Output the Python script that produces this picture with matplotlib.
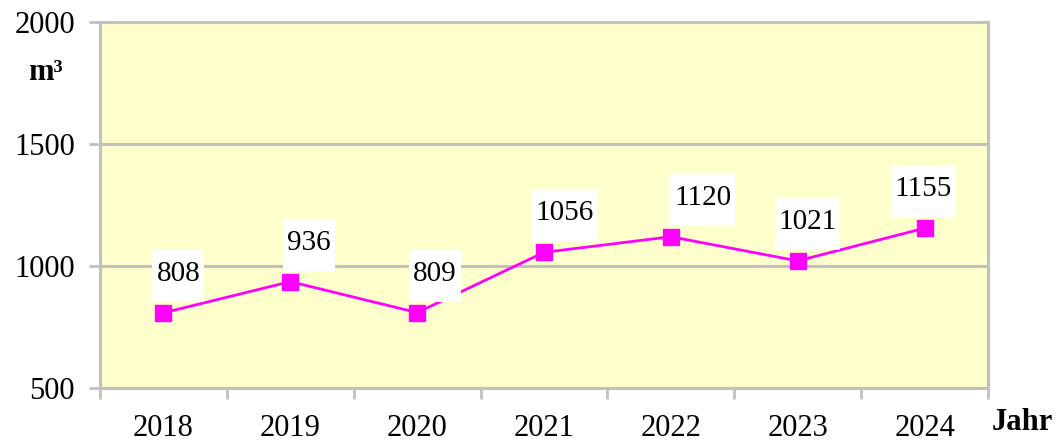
import matplotlib.pyplot as plt
from matplotlib.patches import Rectangle
from matplotlib.transforms import Affine2D, ScaledTranslation

# data
years = ["2018", "2019", "2020", "2021", "2022", "2023", "2024"]
values = [808, 936, 809, 1056, 1120, 1021, 1155]
y_ticks = [500, 1000, 1500, 2000]

# horizontal shift of each label box (pixels), as in the original
label_dx = [15, 19, 18, 21, 32, 10, -1]

plt.rcParams['font.family'] = ['Liberation Serif', 'DejaVu Serif']

fig = plt.figure(figsize=(10.62, 4.43), dpi=100)
W, H = 1062, 443
ax = fig.add_axes([100 / W, 1 - 388 / H, (988 - 100) / W, (388 - 22) / H])
ax.set_facecolor('#FFFFCC')

x = list(range(len(years)))
ax.plot(x, values, color='#FF00FF', lw=2.0, marker='s', markersize=11.5, zorder=3)

grid_col = '#C0C0C0'
ax.set_ylim(500, 2000)
ax.set_yticks(y_ticks)
ax.set_yticklabels([str(t) for t in y_ticks], fontsize=22)
ax.set_xlim(-0.5, len(years) - 0.5)
ax.set_xticks(x)
ax.set_xticklabels(years, fontsize=22)
ax.set_xticks([i - 0.5 for i in range(len(years) + 1)], minor=True)
ax.tick_params(axis='x', which='major', length=0, pad=19)
ax.tick_params(axis='x', which='minor', length=8, width=2, color=grid_col)
ax.tick_params(axis='y', length=8, width=2, color=grid_col, pad=10)
ax.yaxis.grid(True, color=grid_col, lw=2.2)
ax.set_axisbelow(True)
for s in ax.spines.values():
    s.set_color(grid_col)
    s.set_linewidth(2.2)

# data labels in white boxes above the points
for i, v in enumerate(values):
    bw = 52 if len(str(v)) == 3 else 65
    bh = 52
    cx, cy = label_dx[i], 11 + bh / 2
    tr = Affine2D().translate(cx, cy) + ScaledTranslation(i, v, ax.transData)
    ax.add_patch(Rectangle((-bw / 2, -bh / 2), bw, bh, facecolor='white',
                           edgecolor='none', transform=tr, zorder=4, clip_on=False))
    ax.text(0, 2, str(v), transform=tr, ha='center', va='center',
            fontsize=21, zorder=5)

fig.text(45 / W, 1 - 73 / H, "m³", fontsize=22, fontweight='bold',
         ha='center', va='center')
fig.text(1022 / W, 1 - 422 / H, "Jahr", fontsize=22, fontweight='bold',
         ha='center', va='center')

fig.savefig("out.png", dpi=100)
